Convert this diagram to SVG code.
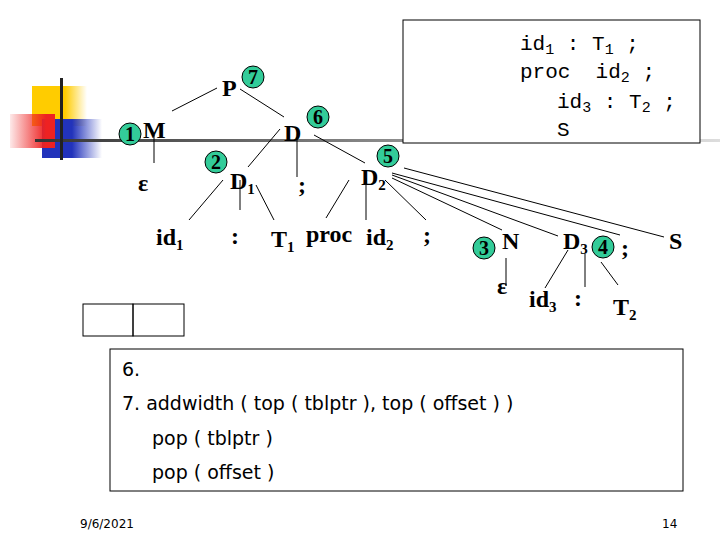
<svg xmlns="http://www.w3.org/2000/svg" width="720" height="540" viewBox="0 0 720 540">
<style>
.t{font-family:"Liberation Serif",serif;font-size:24px;font-weight:bold;fill:#000}
.s{font-size:15px}
.c circle{fill:#33CC99;stroke:#000;stroke-width:1}
.c text{font-family:"Liberation Serif",serif;font-weight:bold;font-size:20px;text-anchor:middle}
.m{font-family:"Liberation Mono",monospace;font-size:21px;white-space:pre}
.b{font-family:"DejaVu Sans",sans-serif;font-size:19px}
#edges line{stroke:#000;stroke-width:1}
</style>
<defs>
<linearGradient id="hl" x1="0" x2="1"><stop offset="0" stop-color="#333"/><stop offset="1" stop-color="#ddd"/></linearGradient>
<linearGradient id="yf" x1="0" x2="1"><stop offset="0.6" stop-color="#FFCC00"/><stop offset="1" stop-color="#FFCC00" stop-opacity="0"/></linearGradient>
<linearGradient id="rf" x1="1" x2="0"><stop offset="0.2" stop-color="#EE2222"/><stop offset="1" stop-color="#EE2222" stop-opacity="0.1"/></linearGradient>
<linearGradient id="bf" x1="0" x2="1"><stop offset="0.5" stop-color="#2233BB"/><stop offset="1" stop-color="#2233BB" stop-opacity="0"/></linearGradient>
</defs>
<rect x="32" y="86" width="55" height="40" fill="url(#yf)"/>
<rect x="42" y="119" width="60" height="39" fill="url(#bf)"/>
<rect x="10" y="114" width="45" height="34" fill="url(#rf)"/>
<rect x="35" y="139" width="685" height="3" fill="url(#hl)"/>
<rect x="60" y="78" width="3" height="82" fill="#222"/>
<g id="box1"><rect x="403" y="20" width="297" height="123" fill="#fff" stroke="#000"/>
<text class="m" x="520" y="50">id<tspan class="s" dy="4">1</tspan><tspan dy="-4"> : T</tspan><tspan class="s" dy="4">1</tspan><tspan dy="-4"> ;</tspan></text>
<text class="m" x="520" y="78" xml:space="preserve">proc  id<tspan class="s" dy="4">2</tspan><tspan dy="-4"> ;</tspan></text>
<text class="m" x="557" y="108">id<tspan class="s" dy="4">3</tspan><tspan dy="-4"> : T</tspan><tspan class="s" dy="4">2</tspan><tspan dy="-4"> ;</tspan></text>
<text class="m" x="557" y="136">S</text></g>
<g id="edges">
<line x1="217" y1="88" x2="172" y2="111"/><line x1="240" y1="89" x2="284" y2="117"/>
<line x1="154" y1="135" x2="154" y2="163"/><line x1="280" y1="129" x2="248" y2="167"/>
<line x1="297" y1="137" x2="297" y2="177"/><line x1="314" y1="135" x2="365" y2="163"/>
<line x1="223" y1="180" x2="189" y2="220"/><line x1="240" y1="180" x2="240" y2="210"/>
<line x1="256" y1="185" x2="274" y2="220"/><line x1="349" y1="180" x2="326" y2="218"/>
<line x1="366" y1="178" x2="366" y2="220"/><line x1="385" y1="180" x2="426" y2="220"/>
<line x1="392" y1="178" x2="502" y2="230"/><line x1="392" y1="175" x2="558" y2="236"/>
<line x1="392" y1="173" x2="620" y2="235"/><line x1="404" y1="168" x2="664" y2="237"/>
<line x1="506" y1="258" x2="506" y2="286"/><line x1="568" y1="250" x2="545" y2="288"/>
<line x1="585" y1="254" x2="585" y2="287"/><line x1="601" y1="262" x2="618" y2="285"/>
</g>
<g id="nodes" class="t">
<text x="222" y="96">P</text><text x="143" y="138">M</text><text x="284" y="141">D</text>
<text x="138" y="191">ε</text><text x="230" y="189">D<tspan class="s" dy="5">1</tspan></text>
<text x="298" y="193">;</text><text x="361" y="185">D<tspan class="s" dy="5">2</tspan></text>
<text x="156" y="245">id<tspan class="s" dy="5">1</tspan></text><text x="231" y="244">:</text>
<text x="271" y="247">T<tspan class="s" dy="5">1</tspan></text><text x="306" y="242">proc</text>
<text x="366" y="245">id<tspan class="s" dy="5">2</tspan></text><text x="423" y="243">;</text>
<text x="502" y="249">N</text><text x="563" y="249">D<tspan class="s" dy="5">3</tspan></text>
<text x="621" y="256">;</text><text x="669" y="249">S</text>
<text x="497" y="294">ε</text><text x="529" y="307">id<tspan class="s" dy="5">3</tspan></text>
<text x="574" y="306">:</text><text x="613" y="315">T<tspan class="s" dy="5">2</tspan></text>
</g>
<g id="circles" class="c">
<g id="c7"><circle cx="253" cy="77" r="11"/><text x="253" y="84">7</text></g>
<g id="c1"><circle cx="130" cy="134" r="11"/><text x="130" y="141">1</text></g>
<g id="c6"><circle cx="318" cy="117" r="11"/><text x="318" y="124">6</text></g>
<g id="c2"><circle cx="216" cy="162" r="11"/><text x="216" y="169">2</text></g>
<g id="c5"><circle cx="388" cy="156" r="11"/><text x="388" y="163">5</text></g>
<g id="c3"><circle cx="484" cy="248" r="11"/><text x="484" y="255">3</text></g>
<g id="c4"><circle cx="603" cy="247" r="11"/><text x="603" y="254">4</text></g>
</g>
<g id="small"><rect x="83" y="304" width="50" height="32" fill="none" stroke="#000"/><rect x="133" y="304" width="51" height="32" fill="none" stroke="#000"/></g>
<g id="box2"><rect x="110" y="349" width="573" height="142" fill="#fff" stroke="#000"/>
<text class="b" x="122" y="376">6.</text>
<text class="b" x="122" y="410">7. addwidth ( top ( tblptr ), top ( offset ) )</text>
<text class="b" x="152" y="445">pop ( tblptr )</text>
<text class="b" x="152" y="479">pop ( offset )</text></g>
<text x="80" y="528" font-family="DejaVu Sans,sans-serif" font-size="12">9/6/2021</text>
<text x="662" y="528" font-family="DejaVu Sans,sans-serif" font-size="12">14</text>
</svg>
